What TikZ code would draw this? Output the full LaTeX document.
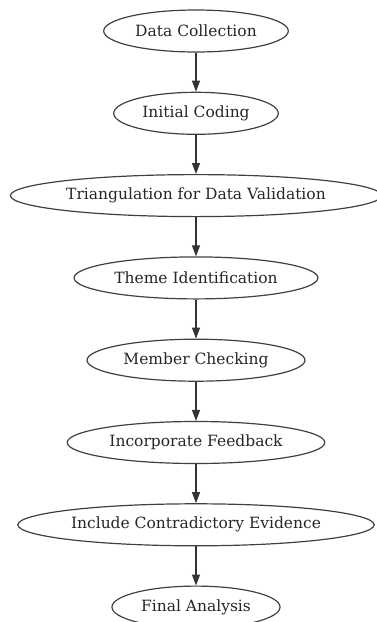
\documentclass[tikz,border=0pt]{standalone}
\usepackage{fontspec}
\setmainfont{DejaVu Serif}
\usetikzlibrary{shapes.geometric}
\usetikzlibrary{positioning}
\usetikzlibrary{arrows.meta}

\begin{document}
\begin{tikzpicture}[x=1pt, y=1pt, node distance=39.1pt,
    stage/.style={ellipse, draw=black!75, line width=1.2pt, inner xsep=4.5pt,
        minimum height=42pt, font=\fontsize{15.5}{17}\selectfont, text=black!85},
    flow/.style={draw=black!80, line width=1.2pt, -{Triangle[length=11pt, width=8pt]}}]
    \useasboundingbox (0, 0) rectangle (377, -622);
    
    \node [stage] (collect) at (196, -31) {Data Collection};
    \node [stage, below=of collect] (coding) {Initial Coding};
    \node [stage, below=of coding, inner xsep=1.5pt] (triang) {Triangulation for Data Validation};
    \node [stage, below=of triang] (theme) {Theme Identification};
    \node [stage, below=of theme] (member) {Member Checking};
    \node [stage, below=of member] (feedback) {Incorporate Feedback};
    \node [stage, below=of feedback, inner xsep=1pt] (contra) {Include Contradictory Evidence};
    \node [stage, below=of contra] (final) {Final Analysis};
    
    \draw[flow] (collect) -- (coding);
    \draw[flow] (coding) -- (triang);
    \draw[flow] (triang) -- (theme);
    \draw[flow] (theme) -- (member);
    \draw[flow] (member) -- (feedback);
    \draw[flow] (feedback) -- (contra);
    \draw[flow] (contra) -- (final);
    
\end{tikzpicture}
\end{document}
